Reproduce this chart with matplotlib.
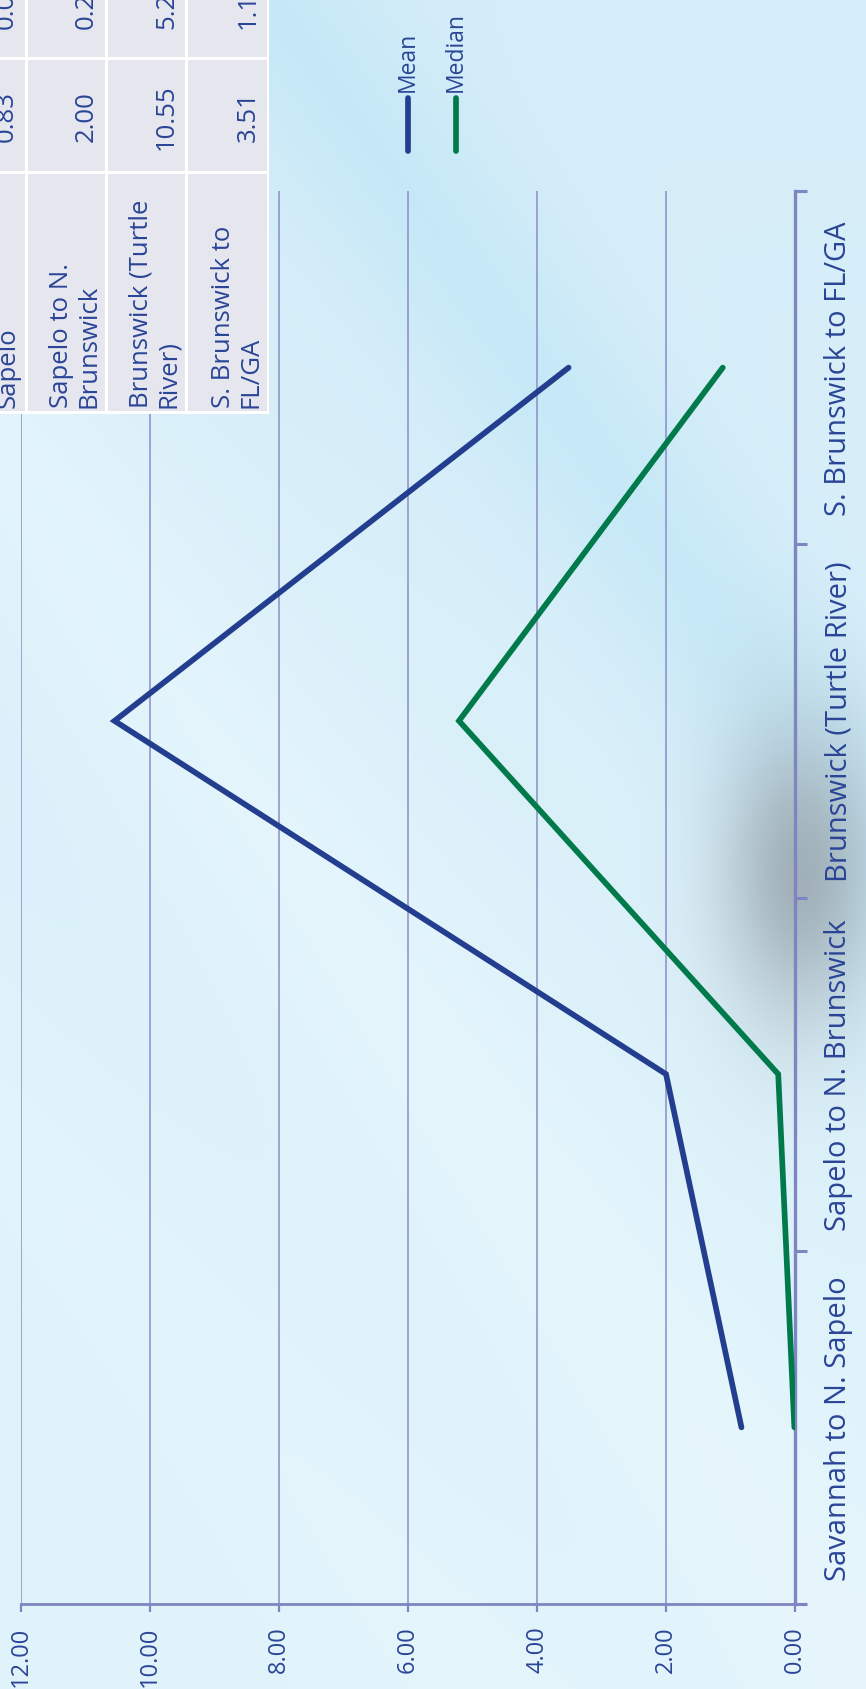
import numpy as np
import matplotlib
matplotlib.use("Agg")
import matplotlib.pyplot as plt
from matplotlib.lines import Line2D
from matplotlib.patches import Rectangle

# ---------------- data ----------------
categories = ["Savannah to N. Sapelo", "Sapelo to N. Brunswick",
              "Brunswick (Turtle River)", "S. Brunswick to FL/GA"]
table_names = ["Savannah to N.\nSapelo", "Sapelo to N.\nBrunswick",
               "Brunswick (Turtle\nRiver)", "S. Brunswick to\nFL/GA"]
mean_vals = [0.83, 2.00, 10.55, 3.51]
median_vals = [0.01, 0.26, 5.21, 1.12]
value_ticks = [0, 2, 4, 6, 8, 10, 12]
series_names = ["Mean", "Median"]

# ---------------- style ----------------
W, H = 866, 1690
FONT = "Open Sans"
plt.rcParams["font.family"] = [FONT, "DejaVu Sans"]
TXT = "#2a4596"
GRID = "#8a8ec6"
AXC = "#7e85c0"
C_MEAN = "#233e8e"
C_MED = "#007a4a"
LW = 4.1

fig = plt.figure(figsize=(W / 100, H / 100), dpi=100)

# ---------------- background ----------------
yy, xx = np.mgrid[0:H, 0:W].astype(float)
top = np.array([0.835, 0.930, 0.975])
bot = np.array([0.880, 0.955, 0.985])
t = (yy / H)[..., None]
img = top * (1 - t) + bot * t

def band(x0, y0, x1, y1, sig):
    dx, dy = x1 - x0, y1 - y0
    n = np.hypot(dx, dy)
    d = ((xx - x0) * dy - (yy - y0) * dx) / n
    return np.exp(-0.5 * (d / sig) ** 2)

cyan = np.array([0.76, 0.905, 0.965])
light = np.array([0.915, 0.970, 0.990])
b1 = band(230, -50, 860, 820, 70)[..., None] * 0.75
img = img * (1 - b1) + cyan * b1
b2 = band(-100, 300, 640, 1350, 90)[..., None] * 0.6
img = img * (1 - b2) + light * b2
b3 = band(-200, 900, 500, 1700, 80)[..., None] * 0.4
img = img * (1 - b3) + light * b3
gray = np.array([0.60, 0.65, 0.68])
g = np.exp(-0.5 * (((xx - 800) / 55) ** 2 + ((yy - 875) / 105) ** 2))[..., None] * 0.85
img = img * (1 - g) + gray * g

bg = fig.add_axes([0, 0, 1, 1], zorder=-10)
bg.imshow(np.clip(img, 0, 1), aspect="auto", extent=(0, W, H, 0))
bg.set_axis_off()

# ---------------- main axes (rotated chart) ----------------
x0, x1 = 21, 795
y0, y1 = 192, 1605
ax = fig.add_axes([x0 / W, 1 - y1 / H, (x1 - x0) / W, (y1 - y0) / H])
ax.patch.set_alpha(0)

ypos = np.arange(len(categories))
ax.plot(mean_vals, ypos, color=C_MEAN, lw=LW, solid_capstyle="round",
        solid_joinstyle="miter", zorder=5)
ax.plot(median_vals, ypos, color=C_MED, lw=LW, solid_capstyle="round",
        solid_joinstyle="miter", zorder=5)

ax.set_xlim(12, 0)
ax.set_ylim(-0.5, len(categories) - 0.5)

ax.set_xticks(value_ticks)
ax.set_xticklabels([f"{v:.2f}" for v in value_ticks], rotation=90)
ax.grid(axis="x", color=GRID, lw=1.1, zorder=0)
ax.set_axisbelow(True)
ax.tick_params(axis="x", direction="out", length=5.5, width=1.6, color=AXC,
               labelsize=17, labelcolor=TXT, pad=10)

ax.yaxis.tick_right()
ax.set_yticks(ypos)
ax.set_yticklabels(categories, rotation=90, va="center")
ax.set_yticks(np.arange(-0.5, len(categories)), minor=True)
ax.tick_params(axis="y", which="major", length=0, labelsize=21,
               labelcolor=TXT, pad=21)
ax.tick_params(axis="y", which="minor", direction="out", length=8.5,
               width=2.2, color=AXC)

for s in ["top", "left"]:
    ax.spines[s].set_visible(False)
ax.spines["right"].set_color(AXC)
ax.spines["right"].set_linewidth(2.4)
ax.spines["bottom"].set_color(AXC)
ax.spines["bottom"].set_linewidth(2.0)

# ---------------- overlay (legend + table) in pixel coordinates ----------------
ov = fig.add_axes([0, 0, 1, 1], zorder=10)
ov.set_xlim(0, W)
ov.set_ylim(H, 0)
ov.set_axis_off()
ov.patch.set_alpha(0)

# legend
for name, col, lx in zip(series_names, [C_MEAN, C_MED], [408, 456]):
    ov.add_line(Line2D([lx, lx], [99, 152], color=col, lw=LW,
                       solid_capstyle="round"))
    ov.text(lx, 92, name, rotation=90, ha="center", va="bottom",
            fontsize=16.5, color=TXT)

# table (rows of the original table appear as vertical strips)
ov.add_patch(Rectangle((-80, -80), 80 + 269, 80 + 415, facecolor="white",
                       edgecolor="none", zorder=1))
cell_fc = "#e6e6ef"
col_lefts = [-53, 28, 108, 188]
col_rights = [25, 105, 185, 267]
for i in range(len(categories)):
    cl, cr = col_lefts[i], col_rights[i]
    for (ya, yb) in [(-60, 58), (61, 172), (175, 412)]:
        ov.add_patch(Rectangle((cl, ya), cr - cl, yb - ya, facecolor=cell_fc,
                               edgecolor="none", zorder=2))
    ov.text(cr - 4, 408, table_names[i], rotation=90, ha="right", va="bottom",
            multialignment="left", linespacing=1.12, fontsize=18.5,
            color=TXT, zorder=3)
    ov.text(cr - 6, 117, f"{mean_vals[i]:.2f}", rotation=90, ha="right",
            va="center", fontsize=18.5, color=TXT, zorder=3)
    ov.text(cr - 6, 4, f"{median_vals[i]:.2f}", rotation=90, ha="right",
            va="center", fontsize=18.5, color=TXT, zorder=3)

fig.savefig("out.png", dpi=100)
